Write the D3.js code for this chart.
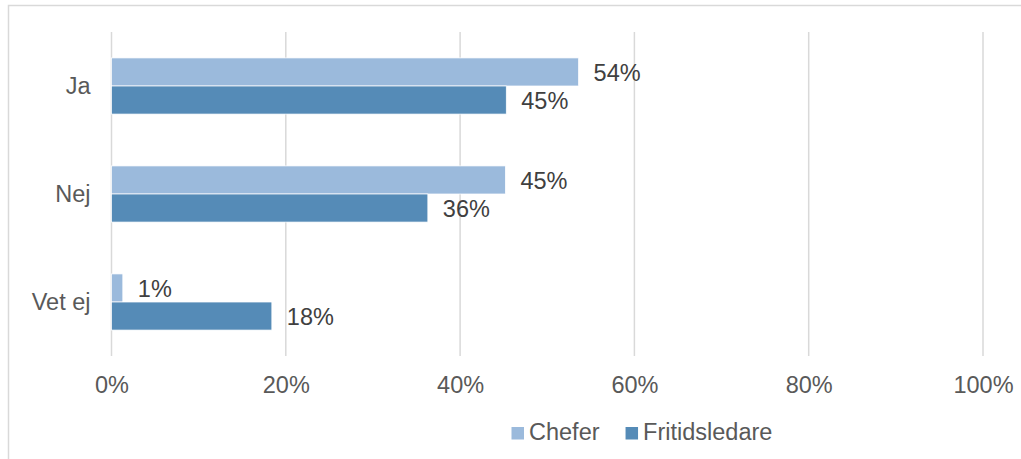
<!DOCTYPE html>
<html>
<head>
<meta charset="utf-8">
<script src="https://cdn.jsdelivr.net/npm/d3@7"></script>
<style>
  html, body { margin: 0; padding: 0; background: #fff; }
  svg { display: block; }
  text { font-family: "Liberation Sans", Arial, sans-serif; }
</style>
</head>
<body>
<svg id="chart" width="1021" height="459"></svg>
<script>
// Svarsalternativ och andel per grupp
const categories = ["Ja", "Nej", "Vet ej"];
const seriesNames = ["Chefer", "Fritidsledare"];
const chefer = [0.536, 0.452, 0.013];
const fritidsledare = [0.453, 0.363, 0.184];
const tickValues = [0, 0.2, 0.4, 0.6, 0.8, 1.0];

const colors = { "Chefer": "#9bbadc", "Fritidsledare": "#558bb7" };
const seriesValues = { "Chefer": chefer, "Fritidsledare": fritidsledare };

const svg = d3.select("#chart");
const fontSize = 23.5;

// Chart frame
svg.append("rect")
  .attr("x", 8.5).attr("y", 5.5)
  .attr("width", 1040).attr("height", 480)
  .attr("fill", "none").attr("stroke", "#d9d9d9").attr("stroke-width", 1.5);

const plot = { left: 111.5, right: 983, top: 32, bottom: 356 };

const x = d3.scaleLinear().domain([0, 1]).range([plot.left, plot.right]);
const y = d3.scaleBand().domain(categories).range([plot.top, plot.bottom])
  .paddingInner(0.48).paddingOuter(0.24);
const ySub = d3.scaleBand().domain(seriesNames).range([0, y.bandwidth()]);

// Vertical gridlines
svg.append("g").selectAll("line")
  .data(tickValues)
  .join("line")
  .attr("x1", d => x(d)).attr("x2", d => x(d))
  .attr("y1", plot.top).attr("y2", plot.bottom)
  .attr("stroke", "#d9d9d9").attr("stroke-width", 1.5);

// Bottom axis labels
const xAxis = svg.append("g")
  .attr("transform", `translate(0,${plot.bottom})`)
  .call(d3.axisBottom(x).tickValues(tickValues).tickFormat(d3.format(".0%"))
    .tickSize(0).tickPadding(20.5));
xAxis.select(".domain").remove();
xAxis.selectAll("text")
  .attr("font-size", fontSize).attr("fill", "#595959")
  .attr("font-family", "'Liberation Sans', Arial, sans-serif");

// Category labels
const yAxis = svg.append("g")
  .attr("transform", `translate(${plot.left},0)`)
  .call(d3.axisLeft(y).tickSize(0).tickPadding(21));
yAxis.select(".domain").remove();
yAxis.selectAll("text")
  .attr("font-size", fontSize).attr("fill", "#595959")
  .attr("font-family", "'Liberation Sans', Arial, sans-serif");

// Bars
const rows = [];
categories.forEach((c, i) => {
  seriesNames.forEach(s => rows.push({ category: c, series: s, value: seriesValues[s][i] }));
});

const fmt = d3.format(".0%");
const groups = svg.append("g").selectAll("g")
  .data(rows)
  .join("g")
  .attr("transform", d => `translate(0,${y(d.category) + ySub(d.series)})`);

groups.append("rect")
  .attr("x", x(0))
  .attr("y", 0)
  .attr("width", d => x(d.value) - x(0))
  .attr("height", ySub.bandwidth())
  .attr("fill", d => colors[d.series])
  .attr("stroke", "#ffffff").attr("stroke-width", 0.75);

groups.append("text")
  .attr("x", d => x(d.value) + 15)
  .attr("y", ySub.bandwidth() / 2 + 1)
  .attr("dy", "0.35em")
  .attr("font-size", fontSize)
  .attr("fill", "#404040")
  .text(d => fmt(d.value));

// Legend
const legend = svg.append("g").attr("transform", "translate(511.5,427)");
let lx = 0;
seriesNames.forEach(s => {
  const item = legend.append("g").attr("transform", `translate(${lx},0)`);
  item.append("rect").attr("width", 12.5).attr("height", 12.5).attr("fill", colors[s]);
  const t = item.append("text")
    .attr("x", 17.5).attr("y", 5).attr("dy", "0.35em")
    .attr("font-size", fontSize).attr("fill", "#595959")
    .text(s);
  lx += 17.5 + t.node().getComputedTextLength() + 26;
});
</script>
</body>
</html>
